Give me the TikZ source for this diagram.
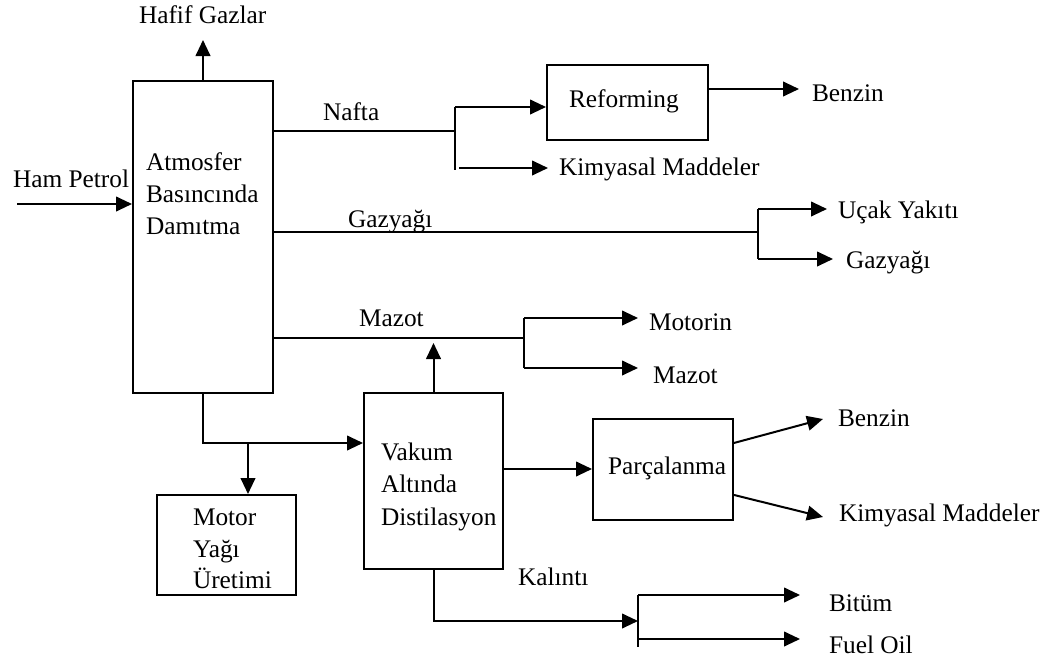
\documentclass[tikz,border=0pt]{standalone}
\usepackage{fontspec}
\setmainfont{Liberation Serif}
\usetikzlibrary{arrows.meta}
\begin{document}
\begin{tikzpicture}[x=0.75pt,y=-0.75pt,
  line width=1.5pt,
  arr/.style={-{Triangle[length=12pt,width=11pt]}},
  lbl/.style={inner sep=0pt, anchor=base west, font=\fontsize{19}{24}\selectfont},
  box/.style={draw, rectangle, inner sep=0pt}]
\path[use as bounding box] (0,0) rectangle (1051,664);

% boxes
\node[box, minimum width=105pt,    minimum height=234pt]   (atm) at (203,237) {};
\node[box, minimum width=120.75pt, minimum height=56.25pt] (ref) at (627.5,102.5) {};
\node[box, minimum width=104.25pt, minimum height=132pt]   (vak) at (433.5,481) {};
\node[box, minimum width=104.25pt, minimum height=75pt]    (mot) at (226.5,545) {};
\node[box, minimum width=105pt,    minimum height=75.75pt] (par) at (663,469.5) {};

% texts in boxes
\node[lbl] (atmA) at (145,170) {Atmosfer};
\node[lbl] (atmB) at (145,202) {Basıncında};
\node[lbl] (atmC) at (145,234) {Damıtma};
\node[lbl] (refT) at (568,107) {Reforming};
\node[lbl] (vakA) at (380,460) {Vakum};
\node[lbl] (vakB) at (380,492) {Altında};
\node[lbl] (vakC) at (380,525) {Distilasyon};
\node[lbl] (motA) at (192,525) {Motor};
\node[lbl] (motB) at (192,557) {Yağı};
\node[lbl] (motC) at (192,588) {Üretimi};
\node[lbl] (parT) at (607,474) {Parçalanma};

% labels
\node[lbl] (hafif) at (138,23) {Hafif Gazlar};
\node[lbl] (ham) at (12,187) {Ham Petrol};
\node[lbl] (nafta) at (322,120) {Nafta};
\node[lbl] (benzA) at (811,101) {Benzin};
\node[lbl] (kimA) at (558,175) {Kimyasal Maddeler};
\node[lbl] (gazL) at (347,227) {Gazyağı};
\node[lbl] (ucak) at (837,218) {Uçak Yakıtı};
\node[lbl] (gazR) at (845,268) {Gazyağı};
\node[lbl] (mazL) at (358,326) {Mazot};
\node[lbl] (motorin) at (648,330) {Motorin};
\node[lbl] (mazR) at (652,383) {Mazot};
\node[lbl] (benzB) at (837,426) {Benzin};
\node[lbl] (kimB) at (838,521) {Kimyasal Maddeler};
\node[lbl] (kal) at (517,585) {Kalıntı};
\node[lbl] (bitum) at (828,611) {Bitüm};
\node[lbl] (fuel) at (828,653) {Fuel Oil};

% connectors
\coordinate (hg) at (203,40);
\draw[arr] (atm.north) -- (hg);
\coordinate (hp) at (17,204);
\draw[arr] (hp) -- (hp -| atm.west);

% Nafta
\coordinate (nj) at (455,131);
\coordinate (nt) at (455,107);
\coordinate (nb) at (455,170);
\draw (nj -| atm.east) -- (nj);
\draw (nt) -- (nb);
\draw[arr] (nt) -- (nt -| ref.west);
\coordinate (k1s) at (459,168);
\coordinate (k1e) at (548,168);
\draw[arr] (k1s) -- (k1e);
\coordinate (b1) at (799,89);
\draw[arr] (b1 -| ref.east) -- (b1);

% Gazyagi
\coordinate (gj) at (758,232);
\coordinate (gt) at (758,209);
\coordinate (gb) at (758,259);
\draw (gj -| atm.east) -- (gj);
\draw (gt) -- (gb);
\coordinate (uy) at (827,209);
\coordinate (gz) at (833,259);
\draw[arr] (gt) -- (uy);
\draw[arr] (gb) -- (gz);

% Mazot
\coordinate (mj) at (524,338);
\coordinate (mt) at (524,318);
\coordinate (mb) at (524,368);
\draw (mj -| atm.east) -- (mj);
\draw (mt) -- (mb);
\coordinate (mo) at (638,318);
\coordinate (mz) at (638,368);
\draw[arr] (mt) -- (mo);
\draw[arr] (mb) -- (mz);

% Vakum up
\coordinate (vu) at (433.5,343);
\draw[arr] (vak.north) -- (vu);

% Atm -> Vakum, Motor
\coordinate (aj) at (203,443);
\draw[arr] (atm.south) -- (aj) -- (aj -| vak.west);
\coordinate (mj2) at (248,443);
\draw[arr] (mj2) -- (mj2 |- mot.north);

% Vakum -> Parcalanma
\coordinate (vp) at (503,469);
\draw[arr] (vp -| vak.east) -- (vp -| par.west);
\coordinate (pb) at (823,419);
\coordinate (pk) at (823,517);
\draw[arr] ([yshift=19.9pt]par.east) -- (pb);
\draw[arr] ([yshift=-19.1pt]par.east) -- (pk);

% Kalinti
\coordinate (kj) at (433.5,621);
\coordinate (kb) at (638,621);
\draw[arr] (vak.south) -- (kj) -- (kb);
\coordinate (kt) at (638,595);
\coordinate (kbot) at (638,647);
\coordinate (kl) at (638,639);
\draw (kt) -- (kbot);
\coordinate (bt) at (800,595);
\coordinate (fo) at (800,639);
\draw[arr] (kt) -- (bt);
\draw[arr] (kl) -- (fo);
\end{tikzpicture}
\end{document}
